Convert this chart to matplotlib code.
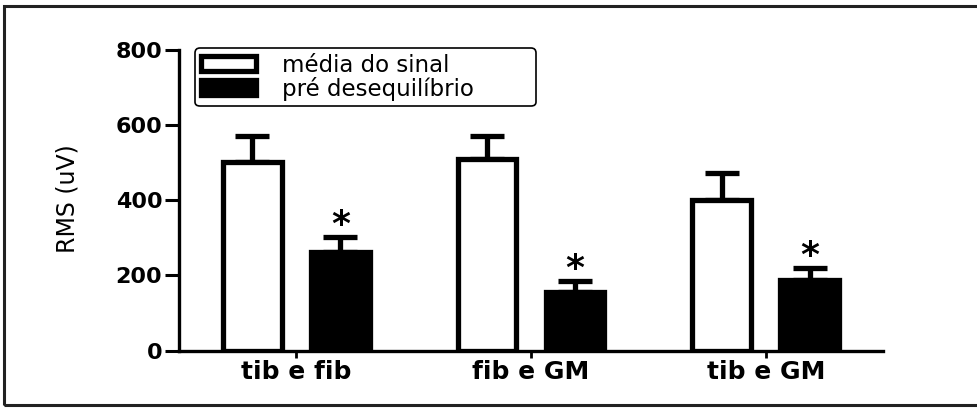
import numpy as np
import matplotlib
matplotlib.use("Agg")
import matplotlib.pyplot as plt
from matplotlib.patches import Rectangle

plt.rcParams['font.family'] = ['DejaVu Sans']

# RMS por par de músculos
grupos = ['tib e fib', 'fib e GM', 'tib e GM']
media_sinal = [502, 509, 401]
erro_sinal = [70, 63, 72]
pre_deseq = [262, 156, 188]
erro_pre = [41, 29, 31]
series = ['média do sinal', 'pré desequilíbrio']

fig = plt.figure(figsize=(9.78, 4.08), dpi=100)
ax = fig.add_axes([0.1830, 0.1409, 0.7199, 0.7365])

x = np.arange(len(grupos))
larg = 0.25
desl = 0.1875
lw = 3.8

b1 = ax.bar(x - desl, media_sinal, larg, color='white', edgecolor='black',
            linewidth=lw, label=series[0], zorder=3)
b2 = ax.bar(x + desl, pre_deseq, larg, color='black', edgecolor='black',
            linewidth=lw, label=series[1], zorder=3)

# só a barra de erro superior
for xs, m, e in [(x - desl, media_sinal, erro_sinal), (x + desl, pre_deseq, erro_pre)]:
    ax.errorbar(xs, m, yerr=[np.zeros(len(e)), e], fmt='none', ecolor='black',
                elinewidth=3.8, capsize=12.5, capthick=3.8, zorder=2)

# asteriscos sobre as barras pré desequilíbrio
for xi, m, e in zip(x + desl, pre_deseq, erro_pre):
    ax.annotate('*', xy=(xi, m + e), xytext=(0, 1.5), textcoords='offset points',
                ha='center', va='baseline', fontsize=26, fontweight='bold')

ax.set_xlim(-0.5, 2.5)
ax.set_ylim(0, 800)
ax.set_yticks([0, 200, 400, 600, 800])
ax.set_xticks(x)
ax.set_xticklabels(grupos, fontsize=18, fontweight='bold')
for t in ax.get_yticklabels():
    t.set_fontsize(16)
    t.set_fontweight('bold')

for s in ['top', 'right']:
    ax.spines[s].set_visible(False)
for s in ['left', 'bottom']:
    ax.spines[s].set_linewidth(2.4)
ax.tick_params(axis='y', length=10, width=2.2, pad=2)
ax.tick_params(axis='x', length=5, width=2, pad=2)

ylab = ax.set_ylabel('RMS (uV)', fontsize=17)
ax.yaxis.set_label_coords(-0.158, 0.504)
ylab.set_verticalalignment('center')

leg = ax.legend(handles=[b1, b2], labels=series, loc='upper left',
                bbox_to_anchor=(0.1994, 0.8824 - 0.1348, 0.3487, 0.1348),
                bbox_transform=fig.transFigure, mode='expand', borderaxespad=0,
                fontsize=16.5, handlelength=2.4, handleheight=0.66,
                handletextpad=1.15, labelspacing=0.0, borderpad=0.25,
                fancybox=True, framealpha=1)
leg.get_frame().set_edgecolor('black')
leg.get_frame().set_linewidth(1.2)

# moldura da figura (aberta à direita)
fig.patches.append(Rectangle((4 / 978, 3 / 408), 1.0, 399 / 408,
                             transform=fig.transFigure, fill=False,
                             edgecolor='#222222', linewidth=2.2))

fig.savefig('out.png', dpi=100)
